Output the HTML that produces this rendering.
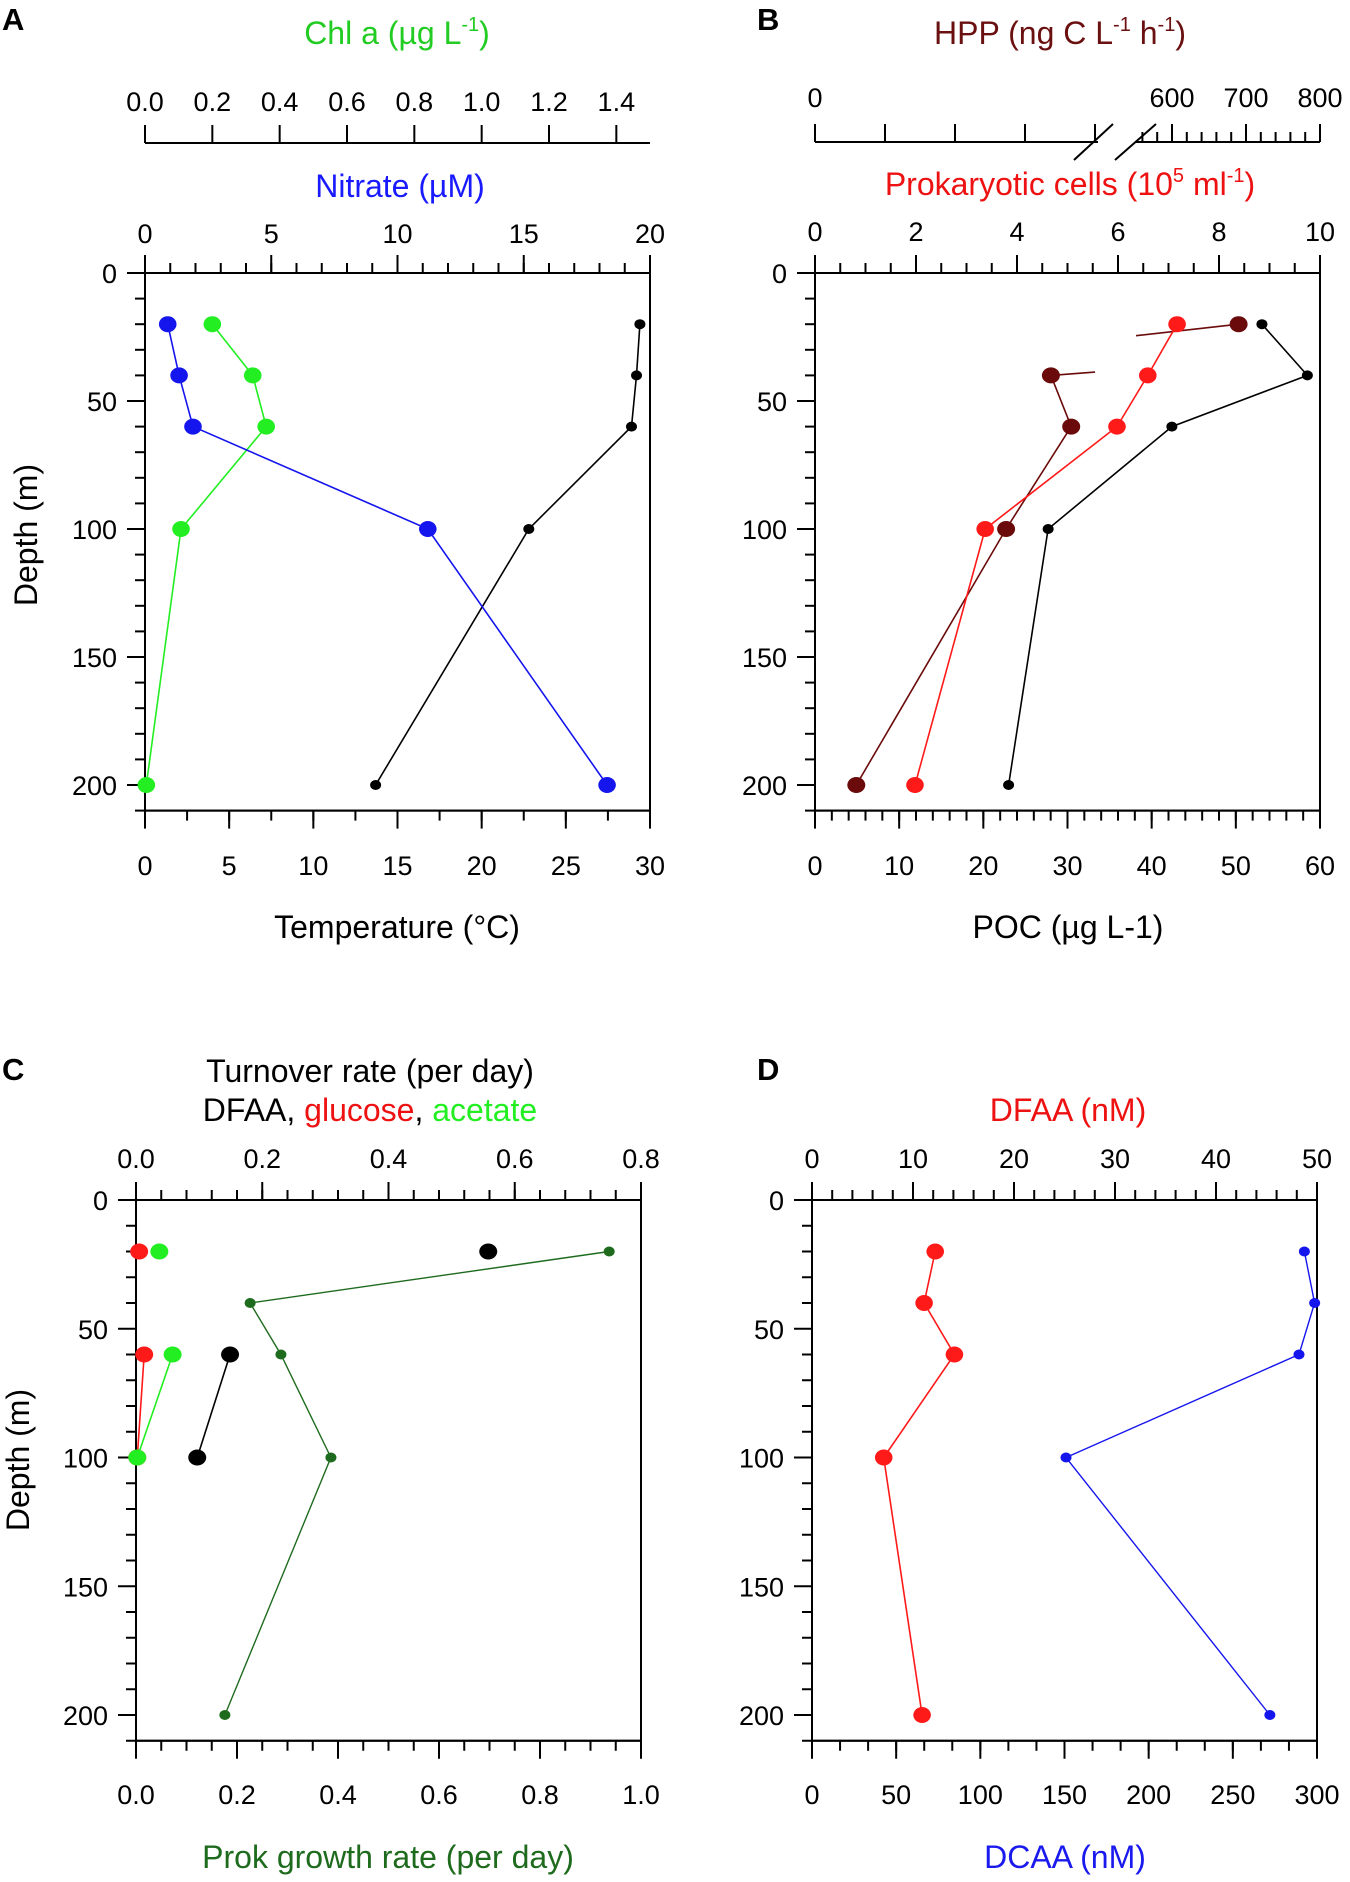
<!DOCTYPE html>
<html><head><meta charset="utf-8"><style>
html,body{margin:0;padding:0;background:#fff;}
svg{display:block;font-family:"Liberation Sans",Arial,sans-serif;}
</style></head><body>
<svg id="fig" width="1350" height="1882" viewBox="0 0 1350 1882" xmlns="http://www.w3.org/2000/svg"></svg>
<script>
// ---------- data ----------
const depths = [20, 40, 60, 100, 200];
// Panel A
const nitrateVals = [0.9, 1.35, 1.9, 11.2, 18.3];
const chlVals = [0.2, 0.32, 0.36, 0.107, 0.004];
const tempVals = [29.4, 29.2, 28.9, 22.8, 13.7];
// Panel B
const prokVals = [7.17, 6.59, 5.98, 3.37, 1.98];
const hppVals = [690, 337, 366, 273, 59];
const pocVals = [53.1, 58.5, 42.4, 27.7, 23.0];
// Panel C
const growthVals = [0.937, 0.226, 0.287, 0.386, 0.176];
const turnDepths = [20, 60, 100];
const dfaaTurn = [0.558, 0.149, 0.097];
const glucTurn = [0.005, 0.013, 0.002];
const acetTurn = [0.037, 0.058, 0.002];
// Panel D
const dfaaVals = [12.2, 11.1, 14.1, 7.1, 10.9];
const dcaaVals = [292.5, 298.6, 289.3, 150.9, 272.0];
// tick labels
const depthTicks = [0, 50, 100, 150, 200];
const chlTicks = [0.0, 0.2, 0.4, 0.6, 0.8, 1.0, 1.2, 1.4];
const nitrateTicks = [0, 5, 10, 15, 20];
const tempTicks = [0, 5, 10, 15, 20, 25, 30];
const hppLeftTicks = [0, 100, 200, 300, 400];
const hppRightTicks = [600, 700, 800];
const prokTicks = [0, 2, 4, 6, 8, 10];
const pocTicks = [0, 10, 20, 30, 40, 50, 60];
const turnTicks = [0.0, 0.2, 0.4, 0.6, 0.8];
const growthTicks = [0.0, 0.2, 0.4, 0.6, 0.8, 1.0];
const dfaaTicks = [0, 10, 20, 30, 40, 50];
const dcaaTicks = [0, 50, 100, 150, 200, 250, 300];

const TS = 27, HS = 32;
const NS = "http://www.w3.org/2000/svg";
const svg = document.getElementById('fig');
function mk(tag, attrs, parent) {
  const e = document.createElementNS(NS, tag);
  for (const k in attrs) e.setAttribute(k, attrs[k]);
  (parent || svg).appendChild(e);
  return e;
}
function txt(s, x, y, opts, parent) {
  const t = mk('text', {x: x, y: y, 'font-size': opts.size || TS, 'text-anchor': opts.anchor || 'middle', fill: opts.fill || '#000', 'font-weight': opts.weight || 'normal'}, parent);
  if (opts.transform) t.setAttribute('transform', opts.transform);
  t.textContent = s;
  return t;
}
function lin(d0, d1, r0, r1) { return v => r0 + (v - d0) / (d1 - d0) * (r1 - r0); }
function fmt(v, dec) { return v.toFixed(dec); }

function hAxis(g, y, scale, x0, x1, ticks, dec, minorStep, lo, hi, dir, labelY, name) {
  const a = mk('g', {}, g);
  
  
  mk('line', {x1: x0, y1: y, x2: x1, y2: y, stroke: '#000', 'stroke-width': 2}, a);
  if (minorStep) {
    const n = Math.round((hi - lo) / minorStep);
    for (let i = 0; i <= n; i++) {
      const v = lo + i * minorStep;
      const x = scale(v);
      mk('line', {x1: x, y1: y, x2: x, y2: y + dir * 10, stroke: '#000', 'stroke-width': 2}, a);
    }
  }
  ticks.forEach(v => {
    const x = scale(v);
    mk('line', {x1: x, y1: y, x2: x, y2: y + dir * 18, stroke: '#000', 'stroke-width': 2}, a);
    txt(fmt(v, dec), x, labelY, {size: TS}, a);
  });
}
function vAxis(g, x, yScale, y0, y1, name) {
  const a = mk('g', {}, g);
  
  
  mk('line', {x1: x, y1: y0, x2: x, y2: y1, stroke: '#000', 'stroke-width': 2}, a);
  for (let v = 0; v <= 210; v += 10) {
    const y = yScale(v);
    const major = v % 50 === 0;
    mk('line', {x1: x, y1: y, x2: x - (major ? 18 : 10), y2: y, stroke: '#000', 'stroke-width': 2}, a);
  }
  depthTicks.forEach(v => txt(String(v), x - 28, yScale(v) + 10, {size: TS, anchor: 'end'}, a));
}
function series(g, xs, ys, xScale, yScale, color, r, name, lw) {
  const s = mk('g', {}, g);
  
  
  const pts = xs.map((v, i) => xScale(v).toFixed(1) + ',' + yScale(ys[i]).toFixed(1)).join(' ');
  mk('polyline', {points: pts, fill: 'none', stroke: color, 'stroke-width': lw || 1.6}, s);
  xs.forEach((v, i) => {
    const c = mk('ellipse', {cx: xScale(v), cy: yScale(ys[i]), rx: r * 1.1, ry: r, fill: color}, s);
    
    
  });
}
function frame(g, L, R, T, B, name) {
  const f = mk('rect', {x: L, y: T, width: R - L, height: B - T, fill: 'none', stroke: '#000', 'stroke-width': 2}, g);
  
  
}

// ---------- Panel A ----------
(function () {
  const g = mk('g', {});
  
  
  const L = 145, R = 650, T = 273;
  const y = lin(0, 200, 273, 785);
  const B = y(210);
  txt('A', 2, 30, {size: 31, anchor: 'start', weight: 'bold'}, g);
  const t1 = txt('', 397, 44, {size: HS, fill: '#22cc22'}, g);
  t1.innerHTML = 'Chl a (µg L<tspan dy="-13" font-size="20">-1</tspan><tspan dy="13">)</tspan>';
  
  const xc = lin(0, 1.5, L, R);
  hAxis(g, 143, xc, L, R, chlTicks, 1, null, 0, 1.5, -1, 111, 'chl-axis');
  txt('Nitrate (µM)', 400, 197, {size: HS, fill: '#1a1aff'}, g);
  const xn = lin(0, 20, L, R);
  hAxis(g, T, xn, L, R, nitrateTicks, 0, 1, 0, 20, -1, 243, 'nitrate-axis');
  const xt = lin(0, 30, L, R);
  hAxis(g, B, xt, L, R, tempTicks, 0, 2.5, 0, 30, 1, 875, 'temperature-axis');
  txt('Temperature (°C)', 397, 938, {size: HS}, g);
  vAxis(g, L, y, T, B, 'depth-axis');
  txt('Depth (m)', 37, 535, {size: HS, transform: 'rotate(-90 37 535)'}, g);
  frame(g, L, R, T, B, 'plot-frame-a');
  series(g, tempVals, depths, xt, y, '#000', 5, 'temperature-series');
  series(g, chlVals, depths, xc, y, '#22ee22', 8, 'chl-series');
  series(g, nitrateVals, depths, xn, y, '#1515ee', 8, 'nitrate-series');
})();

// ---------- Panel B ----------
(function () {
  const g = mk('g', {});
  
  
  const L = 815, R = 1320, T = 273;
  const y = lin(0, 200, 273, 785);
  const B = y(210);
  txt('B', 757, 30, {size: 31, anchor: 'start', weight: 'bold'}, g);
  const t1 = txt('', 1060, 44, {size: HS, fill: '#6b1010'}, g);
  t1.innerHTML = 'HPP (ng C L<tspan dy="-13" font-size="20">-1</tspan><tspan dy="13"> h</tspan><tspan dy="-13" font-size="20">-1</tspan><tspan dy="13">)</tspan>';
  
  const hL = lin(0, 400, L, 1095);
  const hR = lin(600, 800, 1172, R);
  const hpp = v => v >= 550 ? hR(v) : hL(v);
  const ha = mk('g', {}, g);
  
  
  mk('line', {x1: L, y1: 142, x2: 1098, y2: 142, stroke: '#000', 'stroke-width': 2}, ha);
  mk('line', {x1: 1136, y1: 142, x2: R, y2: 142, stroke: '#000', 'stroke-width': 2}, ha);
  hppLeftTicks.forEach(v => mk('line', {x1: hL(v), y1: 142, x2: hL(v), y2: 124, stroke: '#000', 'stroke-width': 2}, ha));
  for (let v = 560; v <= 800; v += 20) {
    const maj = v % 100 === 0;
    mk('line', {x1: hR(v), y1: 142, x2: hR(v), y2: maj ? 124 : 132, stroke: '#000', 'stroke-width': 2}, ha);
  }
  hppRightTicks.forEach(v => txt(String(v), hR(v), 107, {size: TS}, ha));
  txt('0', L, 107, {size: TS}, ha);
  mk('line', {x1: 1074, y1: 160, x2: 1113, y2: 124, stroke: '#000', 'stroke-width': 2}, ha);
  mk('line', {x1: 1115, y1: 160, x2: 1156, y2: 124, stroke: '#000', 'stroke-width': 2}, ha);
  const t2 = txt('', 1070, 195, {size: HS, fill: '#ee1111'}, g);
  t2.innerHTML = 'Prokaryotic cells (10<tspan dy="-13" font-size="20">5</tspan><tspan dy="13"> ml</tspan><tspan dy="-13" font-size="20">-1</tspan><tspan dy="13">)</tspan>';
  
  const xp = lin(0, 10, L, R);
  hAxis(g, T, xp, L, R, prokTicks, 0, 0.5, 0, 10, -1, 241, 'prok-cells-axis');
  const xo = lin(0, 60, L, R);
  hAxis(g, B, xo, L, R, pocTicks, 0, 2, 0, 60, 1, 875, 'poc-axis');
  txt('POC (µg L-1)', 1068, 938, {size: HS}, g);
  vAxis(g, L, y, T, B, 'depth-axis-b');
  frame(g, L, R, T, B, 'plot-frame-b');
  series(g, pocVals, depths, xo, y, '#000', 5, 'poc-series');
  const hs = mk('g', {}, g);
  
  
  const col = '#6b0a0a';
  mk('line', {x1: hpp(hppVals[0]), y1: y(depths[0]), x2: 1136, y2: y(24.5), stroke: col, 'stroke-width': 1.6}, hs);
  mk('line', {x1: hpp(hppVals[1]), y1: y(depths[1]), x2: 1095, y2: y(38.7), stroke: col, 'stroke-width': 1.6}, hs);
  const pts = hppVals.slice(1).map((v, i) => hpp(v).toFixed(1) + ',' + y(depths[i + 1]).toFixed(1)).join(' ');
  mk('polyline', {points: pts, fill: 'none', stroke: col, 'stroke-width': 1.6}, hs);
  hppVals.forEach((v, i) => {
    const c = mk('ellipse', {cx: hpp(v), cy: y(depths[i]), rx: 9, ry: 8, fill: col}, hs);
    
    
  });
  series(g, prokVals, depths, xp, y, '#ff1a1a', 8, 'prok-cells-series');
})();

// ---------- Panel C ----------
(function () {
  const g = mk('g', {});
  
  
  const L = 136, R = 641, T = 1200;
  const y = lin(0, 200, 1200, 1715);
  const B = y(210);
  txt('C', 2, 1080, {size: 31, anchor: 'start', weight: 'bold'}, g);
  txt('Turnover rate (per day)', 370, 1082, {size: HS}, g);
  const t2 = txt('', 370, 1121, {size: HS}, g);
  t2.innerHTML = 'DFAA, <tspan fill="#ee1111">glucose</tspan>, <tspan fill="#22ee22">acetate</tspan>';
  
  const xu = lin(0, 0.8, L, R);
  hAxis(g, T, xu, L, R, turnTicks, 1, 0.04, 0, 0.8, -1, 1168, 'turnover-axis');
  const xg = lin(0, 1, L, R);
  hAxis(g, B, xg, L, R, growthTicks, 1, 0.05, 0, 1, 1, 1804, 'growth-axis');
  txt('Prok growth rate (per day)', 388, 1868, {size: HS, fill: '#1e6b1e'}, g);
  vAxis(g, L, y, T, B, 'depth-axis-c');
  txt('Depth (m)', 29, 1460, {size: HS, transform: 'rotate(-90 29 1460)'}, g);
  frame(g, L, R, T, B, 'plot-frame-c');
  series(g, growthVals, depths, xg, y, '#1e6b1e', 5, 'growth-series', 1.4);
  function turn(vals, color, name) {
    const s = mk('g', {}, g);
    
    
    mk('line', {x1: xu(vals[1]), y1: y(turnDepths[1]), x2: xu(vals[2]), y2: y(turnDepths[2]), stroke: color, 'stroke-width': 1.6}, s);
    vals.forEach((v, i) => {
      const c = mk('ellipse', {cx: xu(v), cy: y(turnDepths[i]), rx: 9, ry: 8, fill: color}, s);
      
      
    });
  }
  turn(dfaaTurn, '#000', 'dfaa-turnover-series');
  turn(glucTurn, '#ff1a1a', 'glucose-turnover-series');
  turn(acetTurn, '#22ee22', 'acetate-turnover-series');
})();

// ---------- Panel D ----------
(function () {
  const g = mk('g', {});
  
  
  const L = 812, R = 1317, T = 1200;
  const y = lin(0, 200, 1200, 1715);
  const B = y(210);
  txt('D', 757, 1080, {size: 31, anchor: 'start', weight: 'bold'}, g);
  txt('DFAA (nM)', 1068, 1121, {size: HS, fill: '#ee1111'}, g);
  const xf = lin(0, 50, L, R);
  hAxis(g, T, xf, L, R, dfaaTicks, 0, 2, 0, 50, -1, 1168, 'dfaa-axis');
  const xd = lin(0, 300, L, R);
  hAxis(g, B, xd, L, R, dcaaTicks, 0, 50 / 3, 0, 300, 1, 1804, 'dcaa-axis');
  txt('DCAA (nM)', 1065, 1868, {size: HS, fill: '#1a1aee'}, g);
  vAxis(g, L, y, T, B, 'depth-axis-d');
  frame(g, L, R, T, B, 'plot-frame-d');
  series(g, dcaaVals, depths, xd, y, '#1515ee', 5, 'dcaa-series', 1.4);
  series(g, dfaaVals, depths, xf, y, '#ff1a1a', 8, 'dfaa-series');
})();
</script>
</body></html>
